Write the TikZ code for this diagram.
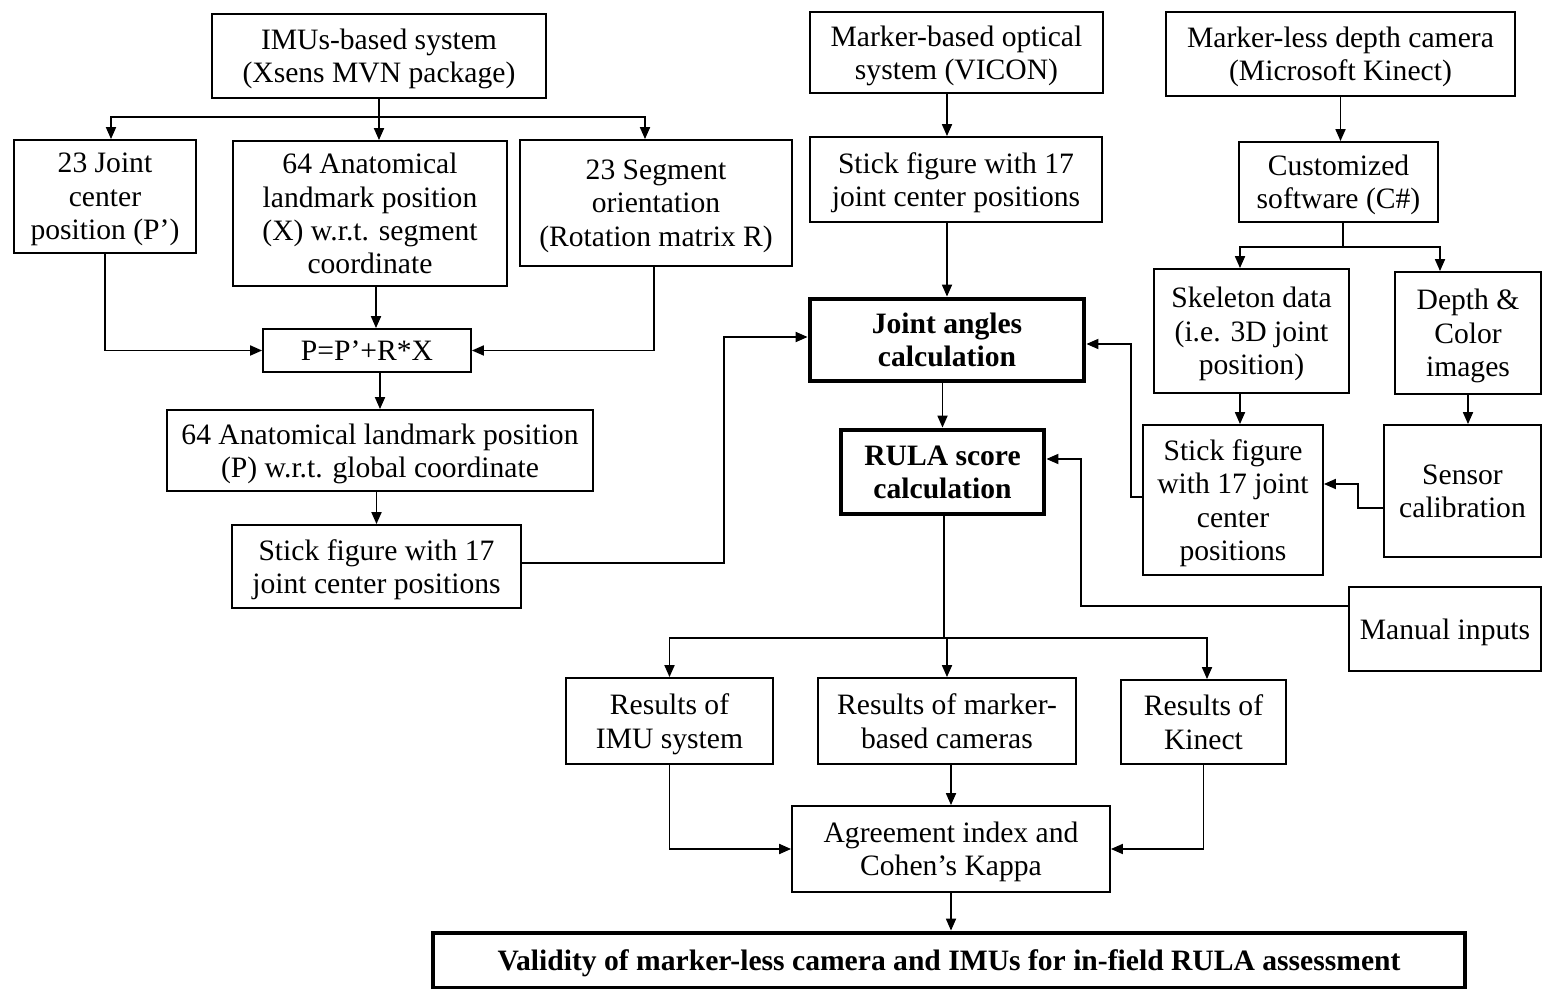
\documentclass[tikz,border=0pt]{standalone}
\usepackage{fontspec}
\setmainfont{Liberation Serif}
\usetikzlibrary{arrows.meta}

\begin{document}
\begin{tikzpicture}[x=0.5pt, y=-0.5pt,
    every node/.style={draw, rectangle, line width=0.9pt, align=center, inner sep=0pt, text=black,
      font=\fontsize{14.8}{16.7}\selectfont, text depth=0pt},
    wh/.style 2 args={minimum width=#1*0.5pt, minimum height=#2*0.5pt},
    thickbox/.style={line width=2.4pt, font=\fontsize{14.8}{16.7}\selectfont\bfseries},
    arr/.style={-{Triangle[length=6pt,width=5pt]}, line width=0.9pt},
    ]
  \useasboundingbox (0,0) rectangle (1543,989);

  % IMU side
  \node[wh={334}{84}] (imu) at (379,56) {IMUs-based system\\(Xsens MVN package)};
  \node[wh={182}{113}] (jointc) at (105,196.5) {23 Joint\\center\\position (P’)};
  \node[wh={274}{145}] (landseg) at (370,213.5) {64 Anatomical\\landmark position\\(X) w.r.t. segment\\coordinate};
  \node[wh={272}{126}] (segor) at (656,203) {23 Segment\\orientation\\(Rotation matrix R)};
  \node[wh={208}{43}] (formula) at (367,350.5) {P=P’+R*X};
  \node[wh={426}{81}] (landglob) at (380,450.5) {64 Anatomical landmark position\\(P) w.r.t. global coordinate};
  \node[wh={289}{83}] (stickimu) at (376.5,566.5) {Stick figure with 17\\joint center positions};

  % VICON side
  \node[wh={293}{81}] (vicon) at (956.5,52.5) {Marker-based optical\\system (VICON)};
  \node[wh={292}{85}] (stickvicon) at (956,179.5) {Stick figure with 17\\joint center positions};
  \node[thickbox, wh={274}{82}] (angles) at (947,340) {Joint angles\\calculation};
  \node[thickbox, wh={203}{84}] (rula) at (942.5,472) {RULA score\\calculation};

  % Kinect side
  \node[wh={349}{84}] (kinect) at (1340.5,54) {Marker-less depth camera\\(Microsoft Kinect)};
  \node[wh={199}{80}] (software) at (1338.5,182) {Customized\\software (C\#)};
  \node[wh={195}{124}] (skeleton) at (1251.5,331) {Skeleton data\\(i.e. 3D joint\\position)};
  \node[wh={146}{122}] (depth) at (1468,333) {Depth \&\\Color\\images};
  \node[wh={180}{150}] (stickkin) at (1233,500) {Stick figure\\with 17 joint\\center\\positions};
  \node[wh={157}{132}] (sensor) at (1462.5,491) {Sensor\\calibration};
  \node[wh={192}{84}] (manual) at (1445,629) {Manual inputs};

  % results
  \node[wh={207}{86}] (resimu) at (669.5,721) {Results of\\IMU system};
  \node[wh={258}{86}] (resmarker) at (947,721) {Results of marker-\\based cameras};
  \node[wh={165}{84}] (reskinect) at (1203.5,722) {Results of\\Kinect};
  \node[wh={318}{86}] (agree) at (951,849) {Agreement index and\\Cohen’s Kappa};
  \node[thickbox, wh={1032}{55}] (validity) at (949,960.5) {Validity of marker-less camera and IMUs for in-field RULA assessment};

  \coordinate (imubr) at (379,117);
  \coordinate (softbr) at (1343,247);
  \coordinate (rulabr) at (944,638);

  \draw[line width=0.9pt] (imu.south) -- (imubr);
  \draw[arr] (imubr) -| ([xshift=3pt]jointc.north);
  \draw[arr] (imubr) -- (imubr |- landseg.north);
  \draw[arr] (imubr) -| ([xshift=-5.5pt]segor.north);
  \draw[arr] (jointc.south) |- (formula.west);
  \draw[arr] ([xshift=-1pt]segor.south) |- (formula.east);
  \draw[arr] ([xshift=3pt]landseg.south) -- ([xshift=3pt]landseg.south |- formula.north);
  \draw[arr] (landglob.north |- formula.south) -- (landglob.north);
  \draw[arr] (stickimu.north |- landglob.south) -- (stickimu.north);
  \draw[arr] ([yshift=1.75pt]stickimu.east) -- ++(202,0) |- ([yshift=1.5pt]angles.west);

  \draw[arr] (angles.north |- vicon.south) -- (angles.north |- stickvicon.north);
  \draw[arr] (angles.north |- stickvicon.south) -- (angles.north);
  \draw[arr] (rula.north |- angles.south) -- (rula.north);
  \draw[line width=0.9pt] (rulabr |- rula.south) -- (rulabr);
  \draw[arr] (rulabr) -| (resimu.north);
  \draw[arr] (rulabr) -| (resmarker.north);
  \draw[arr] (rulabr) -| ([xshift=1.75pt]reskinect.north);

  \draw[arr] (kinect.south) -- (kinect.south |- software.north);
  \draw[line width=0.9pt] (softbr |- software.south) -- (softbr);
  \draw[arr] (softbr) -| ([xshift=-5.75pt]skeleton.north);
  \draw[arr] (softbr) -| ([xshift=-14pt]depth.north);
  \draw[arr] ([xshift=-5.75pt]skeleton.south) -- ([xshift=-5.75pt]skeleton.south |- stickkin.north);
  \draw[arr] (depth.south) -- (depth.south |- sensor.north);
  \draw[arr] ([yshift=-8.5pt]sensor.west) -- ++(-25,0) |- ([yshift=8pt]stickkin.east);
  \draw[arr] ([yshift=1.5pt]stickkin.west) -- ++(-11,0) |- ([yshift=-2pt]angles.east);
  \draw[arr] ([yshift=11.5pt]manual.west) -- ++(-267,0) |- ([yshift=6.5pt]rula.east);

  \draw[arr] (resimu.south) |- (agree.west);
  \draw[arr] (reskinect.south) |- (agree.east);
  \draw[arr] (agree.north |- resmarker.south) -- (agree.north);
  \draw[arr] (agree.south) -- (agree.south |- validity.north);

\end{tikzpicture}
\end{document}
